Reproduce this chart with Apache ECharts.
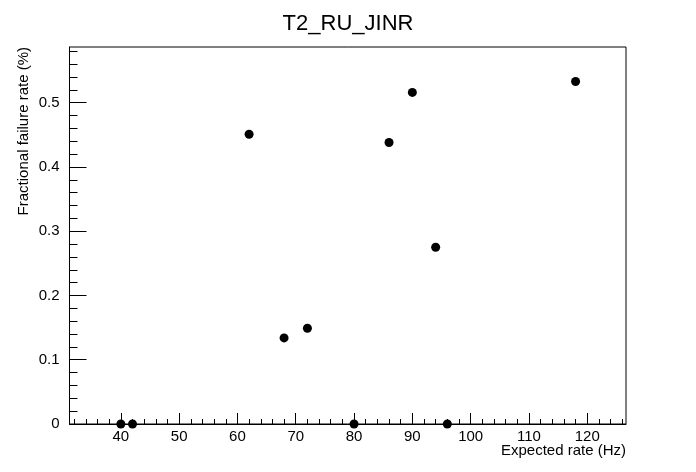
<!DOCTYPE html>
<html>
<head>
<meta charset="utf-8">
<script src="https://cdn.jsdelivr.net/npm/echarts@6/dist/echarts.min.js"></script>
<style>html,body{margin:0;padding:0;background:#fff}#c{width:696px;height:472px}</style>
</head>
<body>
<div id="c"></div>
<script>
const chartTitle = "T2_RU_JINR";
const xTitle = "Expected rate (Hz)";
const yTitle = "Fractional failure rate (%)";
const xValues = [40, 42, 62, 68, 72, 80, 86, 90, 94, 96, 118];
const yValues = [0, 0, 0.451, 0.134, 0.149, 0, 0.438, 0.516, 0.275, 0, 0.533];
const xTickLabels = [40, 50, 60, 70, 80, 90, 100, 110, 120];
const yTickLabels = [0, 0.1, 0.2, 0.3, 0.4, 0.5];
const xRange = [31.19, 126.65];
const yRange = [0, 0.5867];

const xMinor = [];
for (let v = 32; v <= 126; v += 2) if (v % 10 !== 0) xMinor.push(v);
const yMinor = [];
for (let i = 1; i <= 29; i++) if (i % 5 !== 0) yMinor.push(+(i * 0.02).toFixed(2));

const font = "'Liberation Sans', Arial, Helvetica, sans-serif";
const chart = echarts.init(document.getElementById('c'), null, {renderer: 'canvas'});
const axisBase = {
  type: 'value', splitLine: {show: false}
};
chart.setOption({
  animation: false,
  backgroundColor: '#fff',
  title: {
    text: chartTitle, left: 'center', top: 8,
    textStyle: {fontFamily: font, fontSize: 22, fontWeight: 'normal', color: '#000'}
  },
  grid: {left: 69.5, right: 70, top: 47, bottom: 48, show: true, borderColor: '#000', borderWidth: 1, backgroundColor: 'transparent'},
  xAxis: [
    Object.assign({}, axisBase, {
      min: xRange[0], max: xRange[1],
      axisLine: {show: true, onZero: false, lineStyle: {color: '#000', width: 1}},
      axisTick: {show: true, inside: true, length: 11, customValues: xTickLabels, lineStyle: {color: '#000'}},
      axisLabel: {show: true, customValues: xTickLabels, margin: 5, fontFamily: font, fontSize: 15, color: '#000'}
    }),
    Object.assign({}, axisBase, {
      min: xRange[0], max: xRange[1], position: 'bottom',
      axisLine: {show: false, onZero: false},
      axisTick: {show: true, inside: true, length: 5, customValues: xMinor, lineStyle: {color: '#000'}},
      axisLabel: {show: false}
    })
  ],
  yAxis: [
    Object.assign({}, axisBase, {
      min: yRange[0], max: yRange[1],
      axisLine: {show: true, onZero: false, lineStyle: {color: '#000', width: 1}},
      axisTick: {show: true, inside: true, length: 17, customValues: yTickLabels, lineStyle: {color: '#000'}},
      axisLabel: {show: true, customValues: yTickLabels, margin: 10, fontFamily: font, fontSize: 15, color: '#000'}
    }),
    Object.assign({}, axisBase, {
      min: yRange[0], max: yRange[1], position: 'left',
      axisLine: {show: false, onZero: false},
      axisTick: {show: true, inside: true, length: 8, customValues: yMinor, lineStyle: {color: '#000'}},
      axisLabel: {show: false}
    })
  ],
  graphic: [
    {type: 'text', x: 626, y: 451, style: {text: xTitle, align: 'right', verticalAlign: 'middle', font: '15px ' + font, fill: '#000'}},
    {type: 'text', x: 24, y: 47, rotation: Math.PI / 2, style: {text: yTitle, align: 'right', verticalAlign: 'middle', font: '15px ' + font, fill: '#000'}}
  ],
  series: [{
    type: 'scatter', xAxisIndex: 0, yAxisIndex: 0,
    symbol: 'circle', symbolSize: 9,
    itemStyle: {color: '#000', opacity: 1},
    data: xValues.map((x, i) => [x, yValues[i]]),
    clip: false
  }]
});
</script>
</body>
</html>
